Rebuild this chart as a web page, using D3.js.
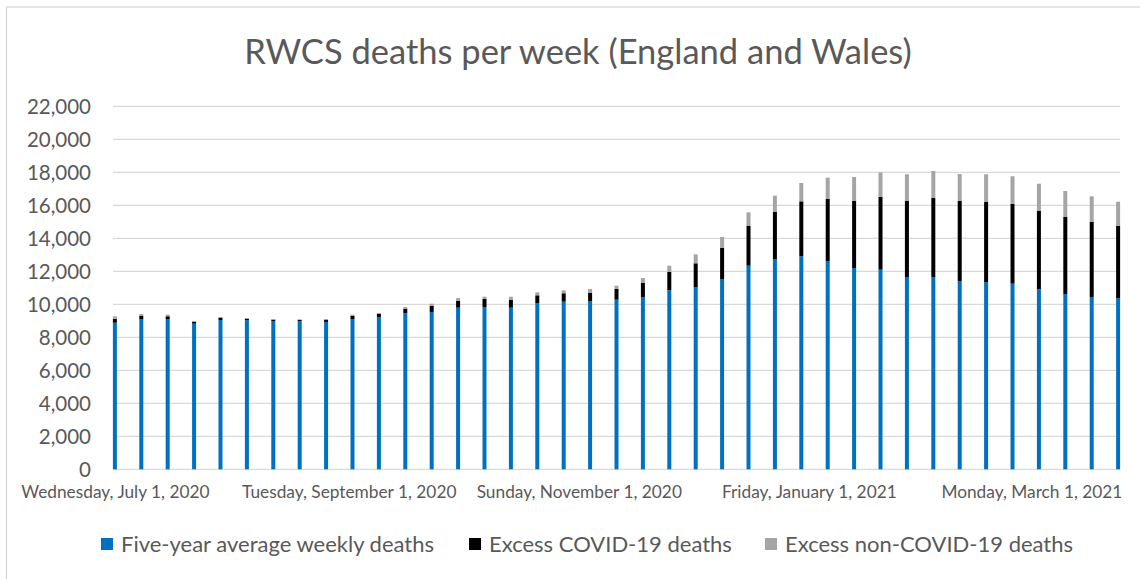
<!DOCTYPE html>
<html>
<head>
<meta charset="utf-8">
<script src="https://cdn.jsdelivr.net/npm/d3@7"></script>
<style>
  html, body { margin: 0; padding: 0; background: #fff; }
  svg { display: block; font-family: Lato, "Open Sans", sans-serif; }
</style>
</head>
<body>
<svg id="chart"></svg>
<script>
// Data
const weeks = [
  "2020-07-01", "2020-07-08", "2020-07-15", "2020-07-22", "2020-07-29",
  "2020-08-05", "2020-08-12", "2020-08-19", "2020-08-26",
  "2020-09-02", "2020-09-09", "2020-09-16", "2020-09-23", "2020-09-30",
  "2020-10-07", "2020-10-14", "2020-10-21", "2020-10-28",
  "2020-11-04", "2020-11-11", "2020-11-18", "2020-11-25",
  "2020-12-02", "2020-12-09", "2020-12-16", "2020-12-23", "2020-12-30",
  "2021-01-06", "2021-01-13", "2021-01-20", "2021-01-27",
  "2021-02-03", "2021-02-10", "2021-02-17", "2021-02-24",
  "2021-03-03", "2021-03-10", "2021-03-17", "2021-03-24"
];
const averageDeaths = [
  8885, 9110, 9110, 8825, 9050, 9030, 8990, 8970, 8930,
  9110, 9210, 9455, 9535, 9795, 9835, 9795, 10080, 10160,
  10200, 10280, 10440, 10850, 11030, 11535, 12340, 12745, 12910,
  12625, 12200, 12100, 11655, 11655, 11410, 11335, 11250,
  10910, 10625, 10440, 10365
];
const covidExcess = [
  240, 200, 165, 105, 140, 95, 80, 80, 140,
  200, 220, 280, 380, 405, 485, 465, 465, 510,
  505, 650, 850, 1110, 1455, 1880, 2405, 2850, 3330,
  3760, 4080, 4405, 4625, 4785, 4865, 4865, 4830,
  4765, 4665, 4565, 4380
];
const nonCovidExcess = [
  145, 105, 95, 60, 45, 45, 40, 45, 25,
  60, 45, 100, 120, 180, 140, 200, 180, 180,
  225, 200, 305, 380, 545, 665, 830, 990, 1110,
  1290, 1435, 1490, 1600, 1640, 1620, 1680, 1680,
  1635, 1575, 1540, 1475
];
const seriesNames = ["Five-year average weekly deaths", "Excess COVID-19 deaths", "Excess non-COVID-19 deaths"];
const seriesColors = ["#0070C0", "#000000", "#A5A5A5"];
const yTicks = [0, 2000, 4000, 6000, 8000, 10000, 12000, 14000, 16000, 18000, 20000, 22000];
const xTickDates = ["2020-07-01", "2020-09-01", "2020-11-01", "2021-01-01", "2021-03-01"];
const title = "RWCS deaths per week (England and Wales)";

const W = 1140, H = 579;
const plot = { left: 113, right: 1120, top: 106.3, bottom: 469.3 };
const textColor = "#595959";
const gridColor = "#D9D9D9";

const parse = d3.utcParse("%Y-%m-%d");
const rows = weeks.map((w, i) => ({
  date: parse(w),
  avg: averageDeaths[i],
  covid: covidExcess[i],
  other: nonCovidExcess[i]
}));

const svg = d3.select("#chart").attr("width", W).attr("height", H);

// chart frame
svg.append("rect")
  .attr("x", 6.5).attr("y", 7).attr("width", W).attr("height", H)
  .attr("fill", "none").attr("stroke", gridColor).attr("stroke-width", 1.3);

// Scales
const halfDay = 12 * 3600 * 1000;
const x = d3.scaleUtc()
  .domain([new Date(rows[0].date - halfDay), new Date(+rows[rows.length - 1].date + halfDay)])
  .range([plot.left, plot.right]);
const y = d3.scaleLinear().domain([0, 22000]).range([plot.bottom, plot.top]);

// Gridlines
svg.append("g")
  .selectAll("line")
  .data(yTicks)
  .join("line")
  .attr("x1", plot.left).attr("x2", plot.right)
  .attr("y1", d => y(d)).attr("y2", d => y(d))
  .attr("stroke", gridColor).attr("stroke-width", 1.3);

// Y axis labels
const yAxis = svg.append("g")
  .attr("transform", `translate(${plot.left - 22},0)`)
  .call(d3.axisLeft(y).tickValues(yTicks).tickSize(0).tickFormat(d3.format(",")));
yAxis.select(".domain").remove();
yAxis.selectAll("text")
  .attr("x", 0).attr("dy", "0.35em")
  .attr("fill", textColor)
  .style("font-size", "20.5px")
  .style("font-family", "Lato, sans-serif");

// Stacked bars
const stack = d3.stack().keys(["avg", "covid", "other"]);
const layers = stack(rows);
const barW = 4;

svg.append("g")
  .selectAll("g")
  .data(layers)
  .join("g")
  .attr("fill", (d, i) => seriesColors[i])
  .selectAll("rect")
  .data(d => d)
  .join("rect")
  .attr("x", d => x(d.data.date) - barW / 2)
  .attr("width", barW)
  .attr("y", d => y(d[1]))
  .attr("height", d => y(d[0]) - y(d[1]));

// X axis labels
const xAxis = svg.append("g")
  .attr("transform", `translate(0,${plot.bottom})`)
  .call(d3.axisBottom(x)
    .tickValues(xTickDates.map(parse))
    .tickSize(0)
    .tickFormat(d3.utcFormat("%A, %B %-d, %Y")));
xAxis.select(".domain").remove();
xAxis.selectAll("text")
  .attr("y", 0).attr("dy", 29)
  .attr("fill", textColor)
  .style("font-size", "17.3px")
  .style("font-family", "Lato, sans-serif");

// Title
svg.append("text")
  .attr("x", 578).attr("y", 64)
  .attr("text-anchor", "middle")
  .attr("fill", textColor)
  .style("font-size", "34.5px")
  .text(title);

// Legend
const legendX = [101, 469, 765];
const legend = svg.append("g");
seriesNames.forEach((name, i) => {
  const g = legend.append("g").attr("transform", `translate(${legendX[i]},538)`);
  g.append("rect").attr("width", 12).attr("height", 12).attr("fill", seriesColors[i]);
  g.append("text")
    .attr("x", 20).attr("y", 13.5)
    .attr("fill", textColor)
    .style("font-size", "22px")
    .text(name);
});
</script>
</body>
</html>
